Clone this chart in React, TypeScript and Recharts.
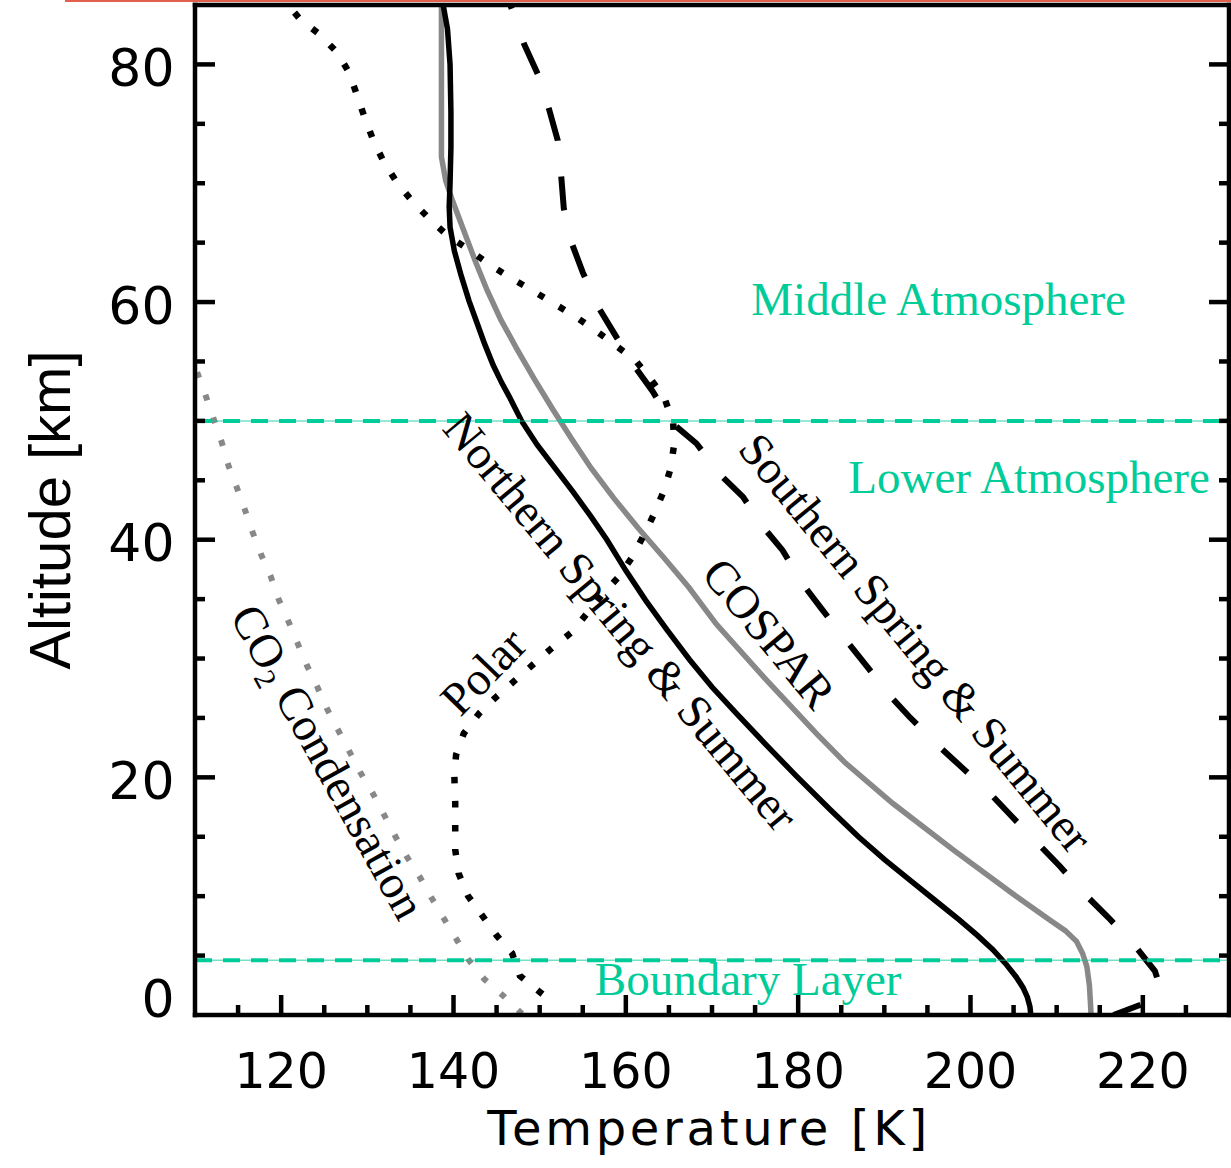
import React from 'react';
import { ComposedChart, Line, Scatter, XAxis, YAxis, ReferenceLine } from 'recharts';

// Temperature profiles of the Martian atmosphere: [temperature K, altitude km]
type Pt = [number, number];

const northernSummer: Pt[] = [
  [138.8, 85], [139.3, 83], [139.6, 80], [139.7, 76], [139.7, 73], [139.6, 70], [139.5, 68],
  [139.6, 66.3], [140.1, 64.3], [140.9, 62.2], [141.8, 60.1], [142.7, 58.3], [143.6, 56.5],
  [144.6, 54.7], [145.6, 53.2], [146.5, 52.0], [147.9, 50.0], [149.7, 48.0], [151.8, 46.0],
  [153.9, 44.0], [155.9, 42.0], [157.8, 40.0], [160.0, 37.4], [162.3, 34.9], [164.8, 32.4],
  [167.4, 29.9], [170.0, 27.6], [172.8, 25.4], [176.2, 22.8], [179.8, 20.1], [183.7, 17.3],
  [187.0, 15.0], [190.0, 13.1], [192.9, 11.4], [195.8, 9.7], [198.7, 8.0], [200.8, 6.7],
  [202.6, 5.5], [204.1, 4.3], [205.3, 3.2], [206.1, 2.3], [206.6, 1.5], [206.9, 0.7], [207.0, 0],
];

const cospar: Pt[] = [
  [138.6, 85], [138.6, 78], [138.6, 72.2], [139.1, 70.2], [139.9, 68.5], [141.2, 66.0],
  [142.5, 63.5], [143.9, 61.0], [145.5, 58.5], [147.4, 56.0], [149.4, 53.5], [151.5, 51.0],
  [153.7, 48.5], [156.0, 46.0], [158.6, 43.5], [161.4, 41.0], [164.4, 38.5], [167.3, 36.0],
  [170.5, 32.9], [176.3, 28.2], [182.1, 23.7], [185.5, 21.2], [191.0, 17.8], [198.0, 13.9],
  [205.3, 10.0], [209.2, 8.0], [211.0, 7.1], [212.3, 6.2], [213.0, 5.2], [213.5, 4.1],
  [213.8, 2.5], [214.0, 0],
];

const southernSummer: Pt[] = [
  [146.6, 85], [148.2, 81.7], [149.9, 79.0], [151.1, 76.2], [152.1, 73.6], [152.5, 70.6],
  [152.8, 67.9], [153.6, 65.2], [155.0, 62.5], [156.7, 59.7], [158.7, 57.3], [160.8, 54.8],
  [163.1, 52.5], [165.4, 49.8], [168.2, 48.1], [170.9, 45.5], [173.6, 43.6], [175.9, 41.1],
  [178.2, 39.1], [180.5, 36.3], [182.7, 34.2], [185.6, 31.5], [187.7, 29.6], [190.6, 26.9],
  [192.9, 25.1], [196.2, 22.7], [198.9, 20.9], [202.2, 18.7], [204.8, 16.7], [208.0, 14.3],
  [210.4, 12.5], [213.5, 10.0], [216.0, 8.2], [219.1, 5.8], [221.4, 3.7], [221.9, 2.6],
  [220.6, 1.1], [216.6, 0],
];

const polar: Pt[] = [
  [120.8, 85], [122.2, 83.8], [124.5, 82.5], [126.5, 81.0], [127.9, 79.3], [128.8, 77.4],
  [129.7, 75.5], [130.7, 73.6], [131.9, 71.8], [133.4, 70.1], [135.2, 68.5], [137.2, 67.0],
  [139.3, 65.6], [141.6, 64.5], [144.1, 63.2], [146.5, 62.1], [149.1, 61.0], [151.6, 59.9],
  [154.1, 58.8], [156.5, 57.6], [158.9, 56.3], [161.1, 55.1], [163.0, 53.4], [164.5, 51.9],
  [165.5, 49.8], [165.6, 48.0], [165.2, 46.0], [164.4, 44.1], [163.3, 42.2], [162.1, 40.4],
  [160.8, 38.6], [159.2, 36.9], [157.3, 35.4], [155.5, 33.8], [153.7, 32.2], [151.6, 31.0],
  [149.4, 29.6], [147.2, 28.2], [145.0, 26.8], [143.0, 25.4], [141.2, 23.7], [140.3, 21.9],
  [140.1, 20.1], [140.2, 17.9], [140.2, 15.8], [140.2, 13.9], [140.6, 11.9], [141.7, 10.0],
  [143.3, 8.4], [145.0, 6.7], [146.8, 5.2], [147.7, 3.3], [149.9, 2.0], [150.6, 1.6],
];

const co2Condensation: Pt[] = [
  [109.3, 56.0], [110.4, 53.8], [111.3, 52.0], [112.2, 50.1], [113.1, 48.2], [113.9, 46.2],
  [114.9, 44.3], [115.8, 42.5], [116.7, 40.6], [117.7, 38.7], [118.8, 36.9], [119.7, 35.0],
  [120.8, 33.2], [121.9, 31.3], [123.0, 29.4], [124.2, 27.6], [125.3, 25.8], [126.6, 24.0],
  [127.9, 22.2], [129.2, 20.4], [130.6, 18.7], [131.9, 16.9], [133.2, 15.1], [134.6, 13.3],
  [136.1, 11.6], [137.5, 9.8], [138.9, 8.1], [140.4, 6.3], [141.8, 4.6], [143.6, 3.0],
  [145.8, 1.6], [147.8, 0.2], [148.3, 0],
];

// Altitudes of the region boundaries (km)
const lowerAtmosphereTop = 50;
const boundaryLayerTop = 4.6;

// Axis ticks
const tempTicks = [115, 120, 125, 130, 135, 140, 145, 150, 155, 160, 165, 170, 175, 180, 185, 190, 195, 200, 205, 210, 215, 220, 225];
const tempLabels = [120, 140, 160, 180, 200, 220];
const altTicks = [0, 5, 10, 15, 20, 25, 30, 35, 40, 45, 50, 55, 60, 65, 70, 75, 80];
const altLabels = [0, 20, 40, 60, 80];

// Annotations, anchored at their centre in data units
const noteTexts = [
  'Middle Atmosphere', 'Lower Atmosphere', 'Boundary Layer', 'Northern Spring & Summer',
  'COSPAR', 'Southern Spring & Summer', 'Polar', 'CO2 Condensation',
];
const noteTemps = [196.3, 206.8, 174.2, 159.4, 176.6, 193.6, 143.5, 125.4];
const noteAlts = [60.2, 45.2, 3.0, 33.1, 32.1, 31.3, 28.9, 21.3];
const noteAngles = [0, 0, 0, 50.4, 50.4, 50.6, -46, 61];

const BLACK = '#000000';
const GRAY = '#888888';
const TEAL = '#00CC99';
const SANS = '"DejaVu Sans", sans-serif';
const SERIF = '"Liberation Serif", "Times New Roman", serif';

const rows = (pts: Pt[]) => pts.map(([t, z]) => ({ t, z }));

const noteRows = noteTexts.map((text, i) => ({
  t: noteTemps[i],
  z: noteAlts[i],
  text,
  angle: noteAngles[i],
  color: i < 3 ? TEAL : BLACK,
}));

const frameLine = { stroke: BLACK, strokeWidth: 4.5, strokeLinecap: 'square' as const };
const MAJOR = 20;
const MINOR = 10;

const BottomTick = (props: any) => {
  const { x, y, payload } = props;
  const major = tempLabels.includes(payload.value);
  return (
    <g>
      <line x1={x} x2={x} y1={y} y2={y - (major ? MAJOR : MINOR)} stroke={BLACK} strokeWidth={4.5} />
      {major && (
        <text x={x} y={y + 73} textAnchor="middle" fontFamily={SANS} fontSize={49} fill={BLACK}>
          {payload.value}
        </text>
      )}
    </g>
  );
};

const TopTick = (props: any) => {
  const { x, y, payload } = props;
  const major = tempLabels.includes(payload.value);
  return <line x1={x} x2={x} y1={y} y2={y + (major ? MAJOR : MINOR)} stroke={BLACK} strokeWidth={4.5} />;
};

const LeftTick = (props: any) => {
  const { x, y, payload } = props;
  const major = altLabels.includes(payload.value);
  const shift = payload.value === 0 ? 1.7 : 21.7;
  return (
    <g>
      {payload.value !== 0 && (
        <line x1={x} x2={x + (major ? MAJOR : MINOR)} y1={y} y2={y} stroke={BLACK} strokeWidth={4.5} />
      )}
      {major && (
        <text x={x - 20.5} y={y + shift} textAnchor="end" fontFamily={SANS} fontSize={52} fill={BLACK}>
          {payload.value}
        </text>
      )}
    </g>
  );
};

const RightTick = (props: any) => {
  const { x, y, payload } = props;
  if (payload.value === 0) return <g />;
  const major = altLabels.includes(payload.value);
  return <line x1={x} x2={x - (major ? MAJOR : MINOR)} y1={y} y2={y} stroke={BLACK} strokeWidth={4.5} />;
};

const TempTitle = (props: any) => {
  const { viewBox } = props;
  return (
    <text
      x={viewBox.x + viewBox.width / 2 - 3}
      y={viewBox.y + 130}
      textAnchor="middle"
      fontFamily={SANS}
      fontSize={48}
      letterSpacing={3.7}
      fill={BLACK}
    >
      Temperature [K]
    </text>
  );
};

const AltTitle = (props: any) => {
  const { viewBox } = props;
  const cx = 70;
  const cy = viewBox.y + viewBox.height / 2;
  return (
    <text
      x={cx}
      y={cy}
      transform={`rotate(-90, ${cx}, ${cy})`}
      textAnchor="middle"
      fontFamily='"Liberation Sans", Arial, sans-serif'
      fontSize={58}
      fill={BLACK}
    >
      Altitude [km]
    </text>
  );
};

const renderNote = (props: any) => {
  const { cx, cy, payload } = props;
  const parts = payload.text.startsWith('CO2') ? (
    <>
      CO
      <tspan fontSize={30} dy={9}>2</tspan>
      <tspan dy={-9}> Condensation</tspan>
    </>
  ) : (
    payload.text
  );
  return (
    <text
      x={cx}
      y={cy}
      dy="0.33em"
      transform={`rotate(${payload.angle}, ${cx}, ${cy})`}
      textAnchor="middle"
      fontFamily={SERIF}
      fontSize={47}
      fill={payload.color}
    >
      {parts}
    </text>
  );
};

export default function App() {
  return (
    <div style={{ position: 'absolute', left: 0, top: 0, width: 1231, height: 1168, background: '#ffffff' }}>
      <div style={{ position: 'absolute', left: 65, top: 0, width: 1166, height: 2, background: '#E0604C' }} />
      <ComposedChart width={1231} height={1168} margin={{ top: 0, right: 0, bottom: 0, left: 0 }}>
        <XAxis
          xAxisId="temp"
          type="number"
          dataKey="t"
          domain={[110, 230]}
          allowDataOverflow
          ticks={tempTicks}
          interval={0}
          tickSize={0}
          tickMargin={0}
          tickLine={false}
          height={153}
          axisLine={frameLine}
          tick={BottomTick}
          label={<TempTitle />}
        />
        <XAxis
          xAxisId="tempTop"
          orientation="top"
          type="number"
          domain={[110, 230]}
          allowDataOverflow
          ticks={tempTicks}
          interval={0}
          tickSize={0}
          tickMargin={0}
          tickLine={false}
          height={5}
          axisLine={frameLine}
          tick={TopTick}
        />
        <YAxis
          yAxisId="alt"
          type="number"
          dataKey="z"
          domain={[0, 85]}
          allowDataOverflow
          ticks={altTicks}
          interval={0}
          tickSize={0}
          tickMargin={0}
          tickLine={false}
          width={195}
          axisLine={frameLine}
          tick={LeftTick}
          label={<AltTitle />}
        />
        <YAxis
          yAxisId="altRight"
          orientation="right"
          type="number"
          domain={[0, 85]}
          allowDataOverflow
          ticks={altTicks}
          interval={0}
          tickSize={0}
          tickMargin={0}
          tickLine={false}
          width={2}
          axisLine={frameLine}
          tick={RightTick}
        />

        <Line xAxisId="temp" yAxisId="alt" data={rows(co2Condensation)} dataKey="z" type="linear"
          stroke={GRAY} strokeWidth={6} strokeDasharray="6 18" dot={false} activeDot={false} isAnimationActive={false} />
        <Line xAxisId="temp" yAxisId="alt" data={rows(cospar)} dataKey="z" type="linear"
          stroke={GRAY} strokeWidth={5.5} dot={false} activeDot={false} isAnimationActive={false} />
        <Line xAxisId="temp" yAxisId="alt" data={rows(polar)} dataKey="z" type="linear"
          stroke={BLACK} strokeWidth={6.5} strokeDasharray="6.5 17.5" strokeDashoffset={-10} dot={false} activeDot={false} isAnimationActive={false} />
        <Line xAxisId="temp" yAxisId="alt" data={rows(southernSummer)} dataKey="z" type="linear"
          stroke={BLACK} strokeWidth={6} strokeDasharray="34 36" strokeDashoffset={30} dot={false} activeDot={false} isAnimationActive={false} />
        <Line xAxisId="temp" yAxisId="alt" data={rows(northernSummer)} dataKey="z" type="linear"
          stroke={BLACK} strokeWidth={5.5} dot={false} activeDot={false} isAnimationActive={false} />

        {[lowerAtmosphereTop, boundaryLayerTop].map((h) => (
          <ReferenceLine key={`thin-${h}`} xAxisId="temp" yAxisId="alt" y={h} stroke={TEAL} strokeOpacity={0.55} strokeWidth={1.5} />
        ))}
        {[lowerAtmosphereTop, boundaryLayerTop].map((h) => (
          <ReferenceLine key={`dash-${h}`} xAxisId="temp" yAxisId="alt" y={h} stroke={TEAL} strokeWidth={4} strokeDasharray="17 11" />
        ))}

        <Scatter xAxisId="temp" yAxisId="alt" data={noteRows} dataKey="z" shape={renderNote} isAnimationActive={false} />
      </ComposedChart>
    </div>
  );
}
